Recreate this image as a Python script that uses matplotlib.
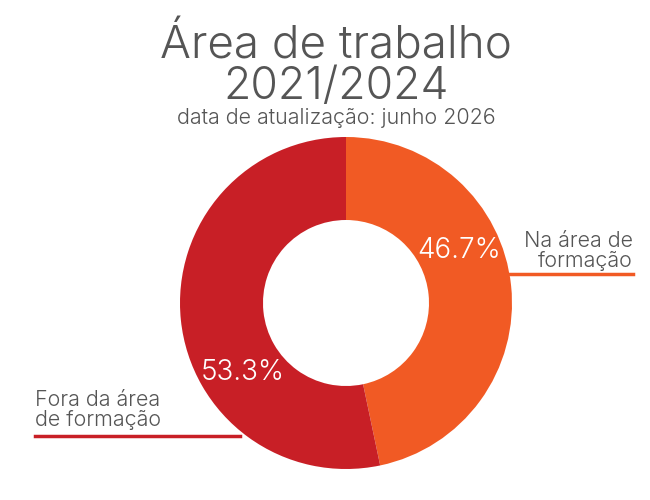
import matplotlib
matplotlib.use("Agg")
import matplotlib.pyplot as plt
from matplotlib.lines import Line2D

plt.rcParams['font.family'] = ['Inter', 'DejaVu Sans']

categories = ["Na área de\nformação", "Fora da área\nde formação"]
shares = [46.7, 53.3]
colors = ["#F15A24", "#C81F26"]
TEXT = "#555555"
W = 300  # light weight, closest to the original thin sans

fig = plt.figure(figsize=(6.5, 5), dpi=100)
ax = fig.add_axes([0.2769, 0.062, 0.5108, 0.664])
ax.pie(shares, colors=colors, startangle=90, counterclock=False,
       radius=1, wedgeprops=dict(width=0.5, edgecolor="none"))
ax.set_xlim(-1, 1); ax.set_ylim(-1, 1)
ax.set_aspect("equal")
ax.axis("off")

# percentage labels inside the ring
pct_pos = [(0.68, 0.315), (-0.62, -0.42)]
for v, (x, y) in zip(shares, pct_pos):
    ax.text(x, y, f"{v:.1f}%", color="white", fontsize=20, fontweight=W,
            ha="center", va="center")

# titles
fig.text(0.517, 0.908, "Área de trabalho", ha="center", va="center",
         fontsize=33, color=TEXT, fontweight=W)
fig.text(0.517, 0.827, "2021/2024", ha="center", va="center",
         fontsize=32, color=TEXT, fontweight=W)
fig.text(0.517, 0.763, "data de atualização: junho 2026", ha="center", va="center",
         fontsize=15.5, color=TEXT, fontweight=W)

# outside labels with underline
fig.text(633 / 650, 1 - 251 / 500, categories[0], ha="right", va="center",
         fontsize=15.5, color=TEXT, fontweight=W, linespacing=0.95)
fig.add_artist(Line2D([508 / 650, 633 / 650], [1 - 274 / 500] * 2,
                      color=colors[0], lw=2.5, transform=fig.transFigure))
fig.text(35 / 650, 1 - 410 / 500, categories[1], ha="left", va="center",
         fontsize=15.5, color=TEXT, fontweight=W, linespacing=0.95)
fig.add_artist(Line2D([35 / 650, 240 / 650], [1 - 436 / 500] * 2,
                      color=colors[1], lw=2.5, transform=fig.transFigure))

fig.savefig("out.png", dpi=100)
